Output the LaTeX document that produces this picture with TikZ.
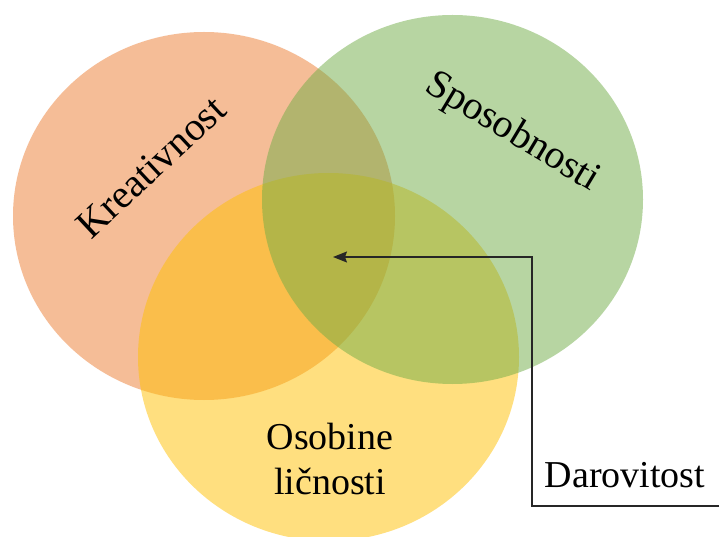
\documentclass[tikz,border=0pt]{standalone}
\usepackage{fontspec}
\setmainfont{Liberation Serif}
\usetikzlibrary{arrows.meta}
\definecolor{corange}{HTML}{ED7D31}
\definecolor{cyellow}{HTML}{FFC000}
\definecolor{cgreen}{HTML}{70AD47}
\definecolor{cline}{HTML}{262626}
\tikzset{
  setfill/.style={fill=#1, fill opacity=0.5, draw=none},
  lbl/.style={inner sep=0pt, font=\fontsize{38}{45}\selectfont, text=black},
  rlbl/.style={inner sep=0pt, font=\fontsize{40}{46}\selectfont, text=black},
  conn/.style={draw=cline, line width=1.4pt, -{Stealth[length=14pt,width=11pt,inset=2pt]}}
}
\begin{document}
\begin{tikzpicture}[x=1pt,y=-1pt]
\useasboundingbox (0,0) rectangle (720,537);
\fill[white] (0,0) rectangle (720,537);
\fill[setfill=corange] (204,216) ellipse [x radius=191pt, y radius=184pt];
\fill[setfill=cyellow] (328.5,357) ellipse [x radius=190.5pt, y radius=184pt];
\fill[setfill=cgreen] (452.5,199.5) ellipse [x radius=190.5pt, y radius=184.5pt];
\node[rlbl, rotate=43] (kre) at (151,167) {Kreativnost};
\node[rlbl, rotate=-31] (spo) at (512,133) {Sposobnosti};
\node[lbl, align=center] (oso) at (330,459) {Osobine\\ličnosti};
\node[lbl, anchor=base] (dar) at (625,487) {Darovitost};
\coordinate (e) at (719,506);
\coordinate (t) at (333,257);
\draw[conn] (e) -- (532,506) |- (t);
\end{tikzpicture}
\end{document}
